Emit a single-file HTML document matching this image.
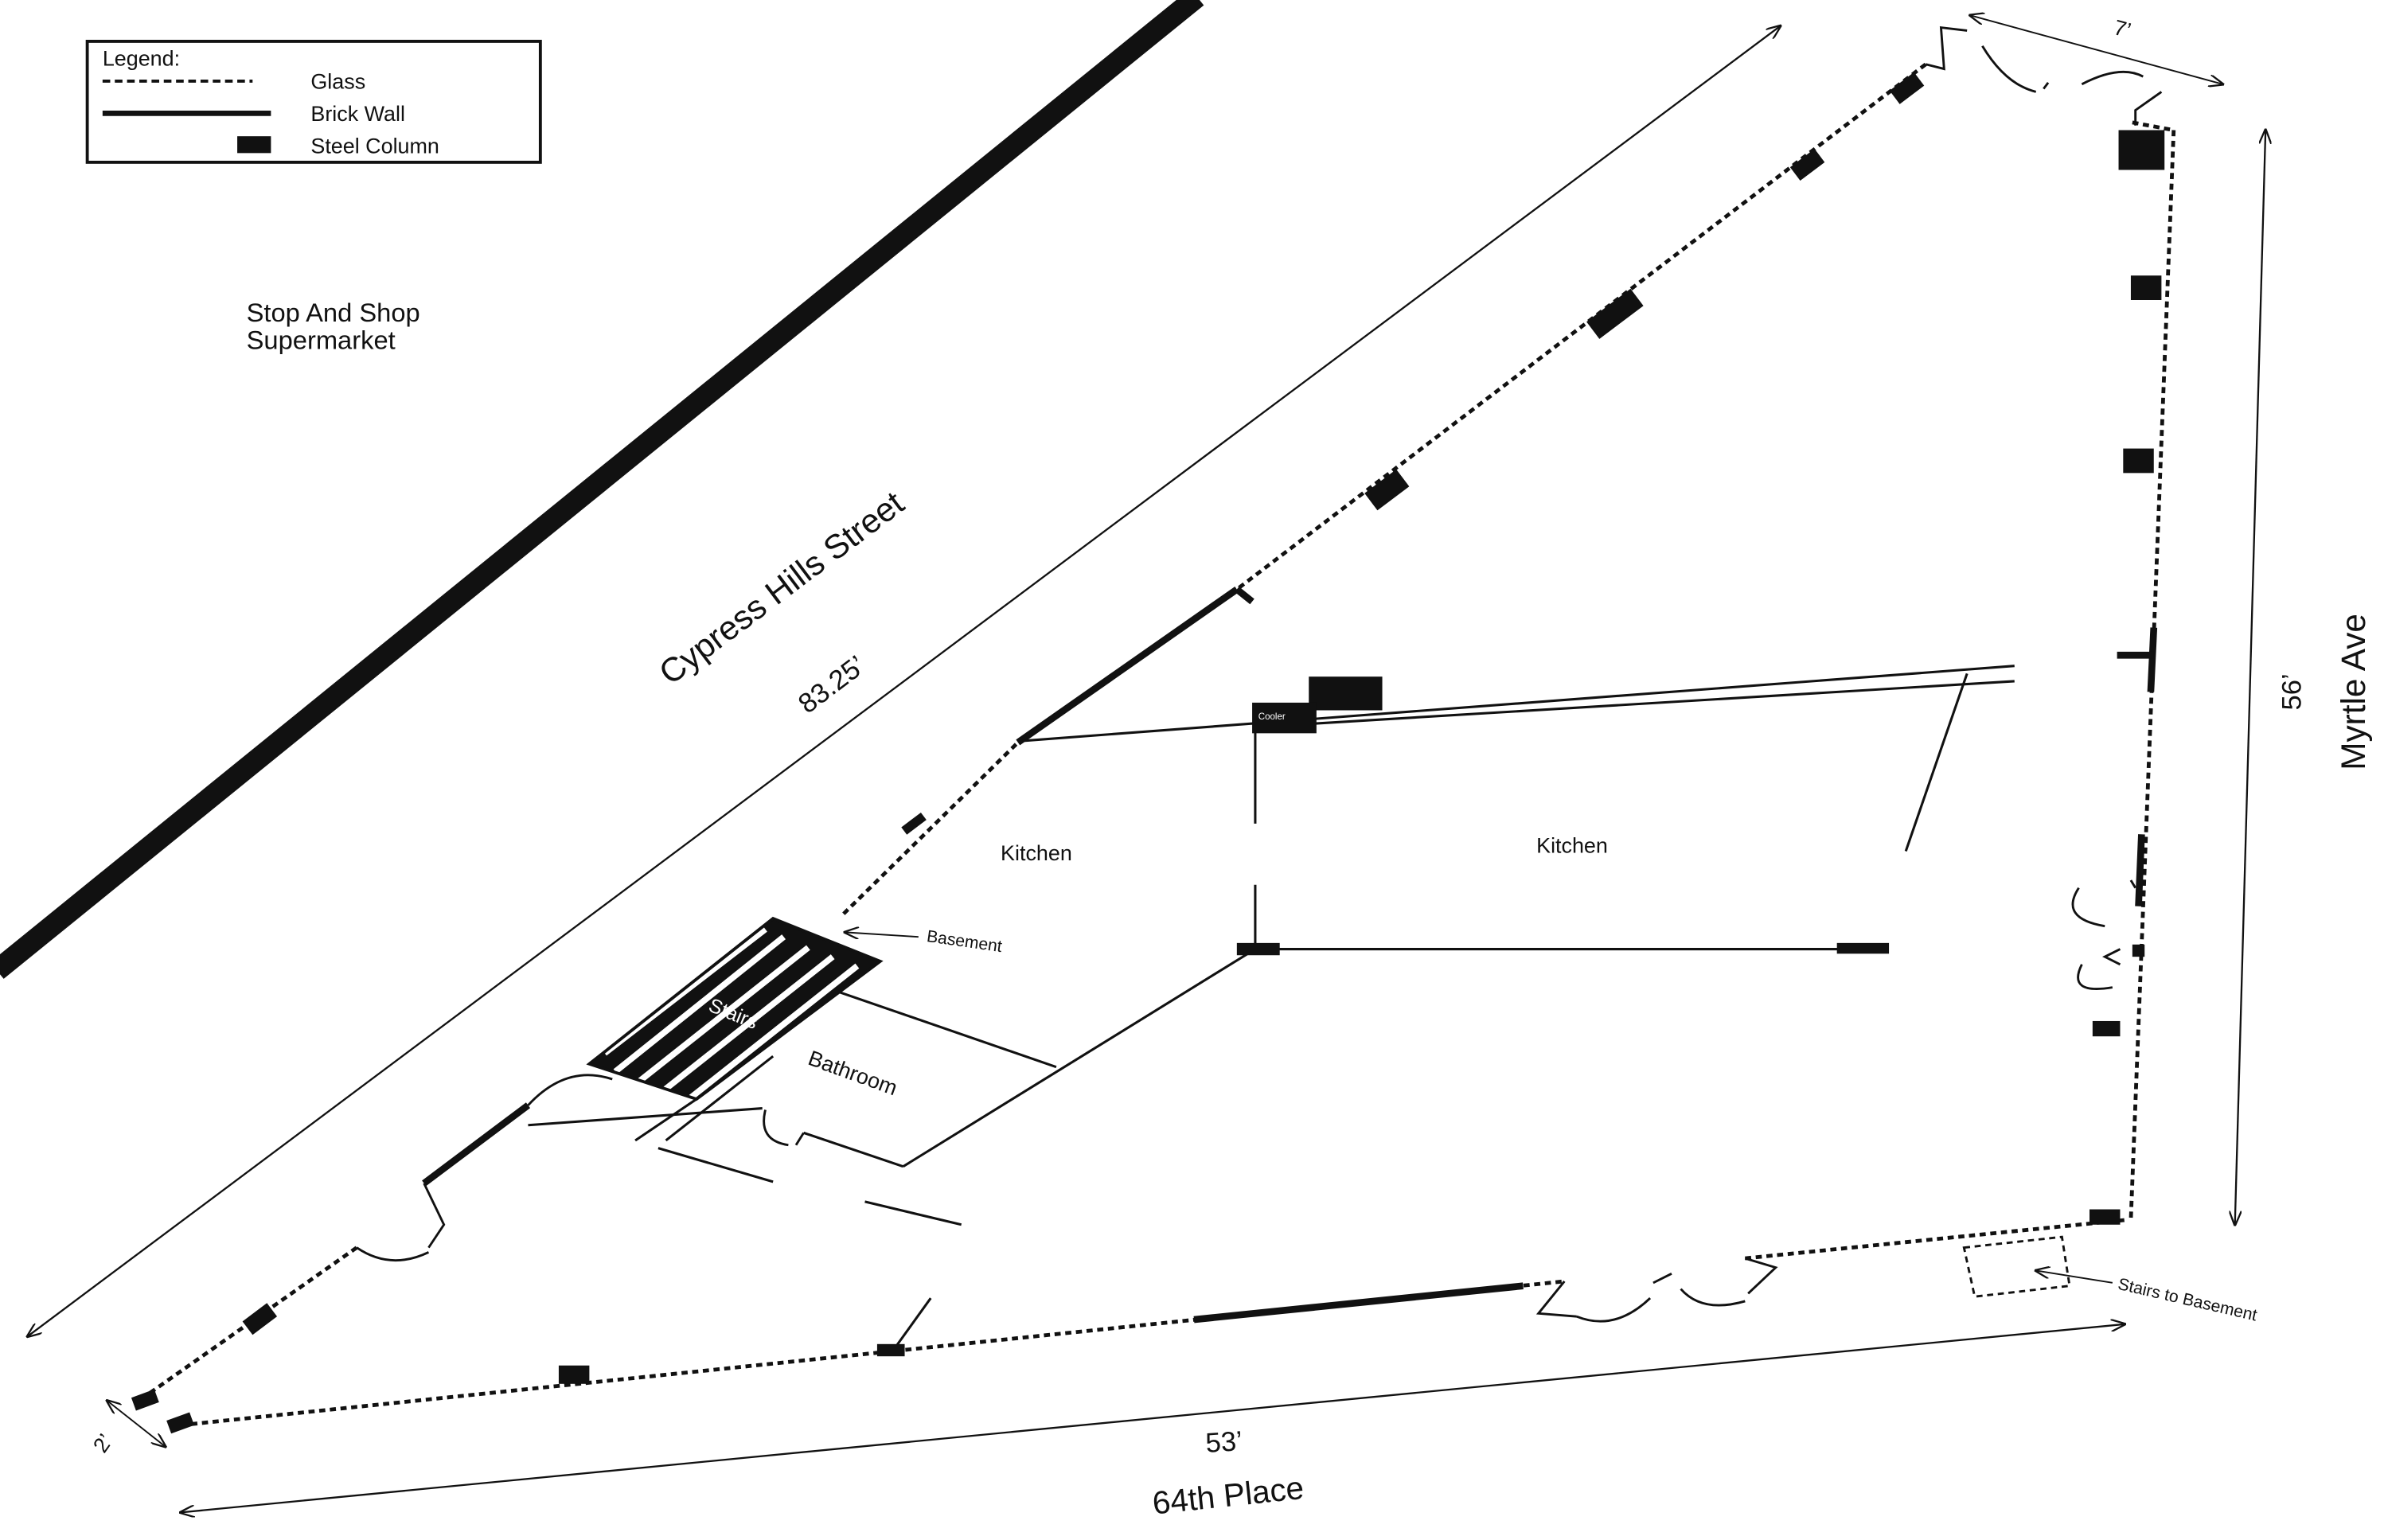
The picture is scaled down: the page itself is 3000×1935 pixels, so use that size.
<!DOCTYPE html>
<html><head><meta charset="utf-8"><style>
html,body{margin:0;padding:0;background:#fff;}
svg{display:block;}
text{font-family:"Liberation Sans",sans-serif;fill:#111;}
</style></head><body>
<svg width="3000" height="1935" viewBox="0 0 1560 1006" preserveAspectRatio="none" xmlns="http://www.w3.org/2000/svg">
<defs>
<marker id="a" markerWidth="10" markerHeight="8" refX="9" refY="4" orient="auto-start-reverse" markerUnits="userSpaceOnUse">
<path d="M0,0 L10,4 L0,8" fill="none" stroke="#111" stroke-width="1.2"/></marker>
</defs>
<rect x="57" y="27" width="296" height="79" fill="#fff" stroke="#111" stroke-width="2"/>
<text x="67" y="43" font-size="14">Legend:</text>
<line x1="67" y1="53" x2="165" y2="53" stroke="#111" stroke-width="2" stroke-dasharray="5,3"/>
<text x="203" y="58" font-size="14">Glass</text>
<line x1="67" y1="74" x2="177" y2="74" stroke="#111" stroke-width="3.5"/>
<text x="203" y="79" font-size="14">Brick Wall</text>
<rect x="155" y="89" width="22" height="11" fill="#111"/>
<text x="203" y="100" font-size="14">Steel Column</text>

<text x="161" y="210" font-size="17">Stop And Shop</text>
<text x="161" y="228" font-size="17">Supermarket</text>

<line x1="-2" y1="634" x2="782" y2="-2" stroke="#111" stroke-width="14"/>
<line x1="18" y1="873" x2="1163" y2="17" stroke="#111" stroke-width="1.2" marker-start="url(#a)" marker-end="url(#a)"/>
<text font-size="22" transform="translate(515,390) rotate(-37)" text-anchor="middle">Cypress Hills Street</text>
<text font-size="18" transform="translate(547,452) rotate(-37)" text-anchor="middle">83.25’</text>

<g stroke="#111" stroke-width="2.5" stroke-dasharray="4,3" fill="none">
<polyline points="1258,42 808,385 665,485 550,598"/>
<line x1="233" y1="815" x2="95" y2="912"/>
<line x1="118" y1="931" x2="1022" y2="837"/>
<line x1="1140" y1="822" x2="1388" y2="797"/>
<line x1="1420" y1="85" x2="1392" y2="797"/>
<line x1="1393" y1="80" x2="1420" y2="85"/>
</g>
<g stroke="#111" stroke-width="4.5" fill="none">
<line x1="665" y1="485" x2="808" y2="385"/>
<line x1="277" y1="773" x2="345" y2="722"/>
<line x1="780" y1="862" x2="995" y2="840"/>
<line x1="1407" y1="410" x2="1405" y2="452"/>
<line x1="1399" y1="545" x2="1397" y2="592"/>
<line x1="1383" y1="428" x2="1407" y2="428"/>
<line x1="808" y1="385" x2="818" y2="393"/>
</g>
<g stroke="#111" stroke-width="1.5" fill="none">
<path d="M277,773 L290,800 L280,815 M233,815 Q255,830 280,818"/>
<path d="M345,722 Q370,695 400,705"/>
<path d="M1022,837 L1005,858 L1030,860 M1030,860 Q1055,870 1078,848 M1080,838 L1092,832"/>
<path d="M1140,822 L1160,828 L1142,845 M1140,850 Q1112,858 1098,842"/>
<path d="M1258,42 L1270,45 L1268,18 L1285,20 M1295,30 Q1310,55 1330,60 M1360,55 Q1385,42 1400,50 M1412,60 L1395,72 L1395,82"/>
<path d="M1358,580 Q1345,600 1375,605 M1360,630 Q1350,650 1380,645 M1395,580 L1392,575 M1385,620 L1375,625 L1385,630"/>
<path d="M1335,58 L1338,54"/>
<path d="M500,725 Q495,745 515,748 M525,740 L520,748"/>
</g>
<polygon points="385,695 505,600 575,628 455,718" fill="#111"/>
<g stroke="#fff" stroke-width="4">
<line x1="402" y1="700" x2="512" y2="612"/>
<line x1="418" y1="706" x2="528" y2="619"/>
<line x1="434" y1="712" x2="544" y2="625"/>
<line x1="450" y1="718" x2="560" y2="631"/>
<line x1="395" y1="688" x2="500" y2="607"/>
</g>
<polygon points="385,695 505,600 575,628 455,718" fill="none" stroke="#111" stroke-width="2"/>
<text font-size="13" fill="#fff" style="fill:#fff" transform="translate(462,660) rotate(22)">Stairs</text>
<g stroke="#111" stroke-width="1.6" fill="none">
<line x1="668" y1="484" x2="1316" y2="435"/>
<line x1="820" y1="463" x2="820" y2="538"/>
<line x1="820" y1="578" x2="820" y2="620"/>
<line x1="820" y1="620" x2="1233" y2="620"/>
<line x1="1285" y1="440" x2="1245" y2="556"/>
<line x1="820" y1="620" x2="590" y2="762"/>
<line x1="548" y1="648" x2="690" y2="697"/>
<line x1="455" y1="718" x2="415" y2="745"/>
<line x1="505" y1="690" x2="435" y2="745"/>
<line x1="345" y1="735" x2="498" y2="724"/>
<line x1="525" y1="740" x2="590" y2="762"/>
<line x1="430" y1="750" x2="505" y2="772"/>
<line x1="565" y1="785" x2="628" y2="800"/>
<line x1="608" y1="848" x2="585" y2="880"/>
<line x1="820" y1="475" x2="1316" y2="445"/>
</g>
<g fill="#111">
<rect x="855" y="442" width="48" height="22"/>
<rect x="818" y="459" width="42" height="20"/>
<rect x="808" y="616" width="28" height="8"/>
<rect x="1200" y="616" width="34" height="7"/>
<rect x="1384" y="85" width="30" height="26"/>
<rect x="1392" y="180" width="20" height="16"/>
<rect x="1387" y="293" width="20" height="16"/>
<rect x="1367" y="667" width="18" height="10"/>
<rect x="1365" y="790" width="20" height="10"/>
<rect x="1393" y="617" width="8" height="8"/>
<g transform="rotate(-37 1246 58)"><rect x="1236" y="52" width="20" height="11"/></g>
<g transform="rotate(-37 1181 108)"><rect x="1171" y="102" width="20" height="11"/></g>
<g transform="rotate(-37 1055 205)"><rect x="1037" y="198" width="36" height="14"/></g>
<g transform="rotate(-37 906 320)"><rect x="893" y="313" width="26" height="14"/></g>
<g transform="rotate(-37 597 538)"><rect x="589" y="535" width="16" height="6"/></g>
<g transform="rotate(-37 170 862)"><rect x="160" y="856" width="20" height="11"/></g>
<rect x="365" y="892" width="20" height="12"/>
<rect x="573" y="878" width="18" height="8"/>
<g transform="rotate(-20 95 915)"><rect x="87" y="910" width="16" height="9"/></g>
<g transform="rotate(-20 118 930)"><rect x="110" y="925" width="16" height="9"/></g>
</g>
<text x="677" y="562" font-size="14" text-anchor="middle">Kitchen</text>
<text x="1027" y="557" font-size="14" text-anchor="middle">Kitchen</text>
<text font-size="14" transform="translate(527,695) rotate(20)">Bathroom</text>
<text font-size="11" transform="translate(605,615) rotate(8)">Basement</text>
<line x1="600" y1="612" x2="552" y2="609" stroke="#111" stroke-width="1" marker-end="url(#a)"/>
<text font-size="6" fill="#fff" style="fill:#fff" x="822" y="470">Cooler</text>

<line x1="1480" y1="85" x2="1460" y2="800" stroke="#111" stroke-width="1.2" marker-start="url(#a)" marker-end="url(#a)"/>
<text font-size="18" transform="translate(1503,452) rotate(-90)" text-anchor="middle">56’</text>
<text font-size="22" transform="translate(1545,452) rotate(-90)" text-anchor="middle">Myrtle Ave</text>
<line x1="118" y1="988" x2="1388" y2="865" stroke="#111" stroke-width="1.2" marker-start="url(#a)" marker-end="url(#a)"/>
<text font-size="18" transform="translate(800,948) rotate(-4)" text-anchor="middle">53’</text>
<text font-size="21" transform="translate(803,984) rotate(-6)" text-anchor="middle">64th Place</text>
<line x1="70" y1="915" x2="108" y2="945" stroke="#111" stroke-width="1" marker-start="url(#a)" marker-end="url(#a)"/>
<text font-size="14" transform="translate(68,950) rotate(-55)">2’</text>
<line x1="1287" y1="10" x2="1452" y2="55" stroke="#111" stroke-width="1" marker-start="url(#a)" marker-end="url(#a)"/>
<text font-size="14" transform="translate(1380,22) rotate(15)">7’</text>
<polygon points="1283,815 1347,808 1352,840 1290,847" fill="none" stroke="#111" stroke-width="1.5" stroke-dasharray="4,3"/>
<line x1="1380" y1="838" x2="1330" y2="830" stroke="#111" stroke-width="1" marker-end="url(#a)"/>
<text font-size="11" transform="translate(1383,842) rotate(13)">Stairs to Basement</text>
</svg>
</body></html>
